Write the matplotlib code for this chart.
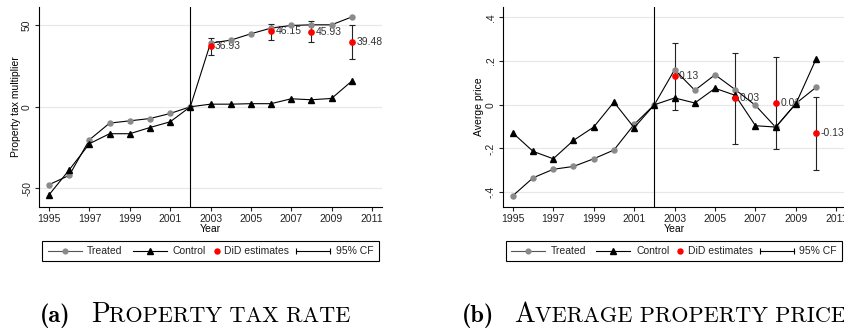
import matplotlib
matplotlib.use('Agg')
import matplotlib.pyplot as plt
from matplotlib.lines import Line2D
from matplotlib.offsetbox import AnchoredOffsetbox, DrawingArea, HPacker, TextArea

plt.rcParams['font.family'] = ['Liberation Sans', 'DejaVu Sans']

years = list(range(1995, 2011))
did_years = [2003, 2006, 2008, 2010]

# (a) property tax multiplier
tax_treated = [-47.7, -42.0, -20.2, -10.0, -8.6, -7.2, -4.1, 0.0,
               39.0, 40.8, 44.7, 48.2, 49.8, 50.2, 50.2, 55.0]
tax_control = [-53.9, -38.6, -22.6, -16.5, -16.5, -12.7, -9.2, 0.0,
               1.6, 1.6, 1.9, 1.9, 4.9, 4.3, 5.1, 15.7]
tax_did = [36.93, 46.15, 45.93, 39.48]
tax_did_labels = ['36.93', '46.15', '45.93', '39.48']
tax_lo = [31.6, 41.0, 39.4, 29.0]
tax_hi = [42.2, 51.0, 52.8, 50.0]
tax_yticks = [-50, 0, 50]
tax_yticklabels = ['-50', '0', '50']

# (b) average property price
price_treated = [-0.416, -0.334, -0.295, -0.282, -0.247, -0.207, -0.090, 0.0,
                 0.160, 0.066, 0.137, 0.069, -0.003, -0.103, 0.006, 0.080]
price_control = [-0.129, -0.213, -0.247, -0.163, -0.102, 0.012, -0.105, 0.0,
                 0.031, 0.008, 0.075, 0.043, -0.096, -0.102, 0.005, 0.210]
price_did = [0.13, 0.03, 0.008, -0.13]
price_did_labels = ['0.13', '0.03', '0.01', '-0.13']
price_lo = [-0.024, -0.181, -0.201, -0.300]
price_hi = [0.282, 0.238, 0.217, 0.037]
price_yticks = [-0.4, -0.2, 0, 0.2, 0.4]
price_yticklabels = ['-.4', '-.2', '0', '.2', '.4']

xticks = list(range(1995, 2012, 2))
legend_labels = ['Treated', 'Control', 'DiD estimates', '95% CF']

GRAY = '#8a8a8a'
W, H = 845, 330
FS = 7.5


def panel(ax, treated, control, did, did_labels, lo, hi, yticks, yticklabels, ylim, ylabel):
    ax.plot(years, treated, color='black', lw=0.8, marker='o', ms=3.6,
            mfc=GRAY, mec=GRAY, zorder=3)
    ax.plot(years, control, color='black', lw=0.8, marker='^', ms=4.4,
            mfc='black', mec='black', zorder=3)
    yerr = [[d - l for d, l in zip(did, lo)], [h - d for d, h in zip(did, hi)]]
    ax.errorbar(did_years, did, yerr=yerr, fmt='none', ecolor='#222222',
                elinewidth=0.8, capsize=2.5, capthick=0.8, zorder=2)
    ax.plot(did_years, did, ls='none', marker='o', ms=3.8, mfc='red', mec='red', zorder=4)
    for x, y, s in zip(did_years, did, did_labels):
        ax.annotate(s, (x, y), xytext=(3.2, 0), textcoords='offset points',
                    ha='left', va='center', fontsize=FS, color='#333333', zorder=1)
    ax.axvline(2002, color='black', lw=0.8, zorder=2)

    ax.set_xlim(1994.5, 2011.5)
    ax.set_ylim(*ylim)
    ax.set_xticks(xticks)
    ax.set_yticks(yticks)
    ax.set_yticklabels(yticklabels)
    for t in ax.get_yticklabels():
        t.set_rotation(90)
        t.set_va('center')
    ax.tick_params(labelsize=FS, length=3, width=0.8, pad=2, colors='#222222')
    ax.yaxis.grid(True, color='#e8e8e8', lw=0.9)
    ax.set_axisbelow(True)
    for s in ['top', 'right']:
        ax.spines[s].set_visible(False)
    for s in ['left', 'bottom']:
        ax.spines[s].set_linewidth(0.8)
    ax.set_xlabel('Year', fontsize=FS, labelpad=0.5)
    ax.set_ylabel(ylabel, fontsize=FS, labelpad=1)


def spacer(px):
    return DrawingArea(px * 0.72, 1)


def handle(kind):
    w = 6 if kind == 'dot' else 34
    da = DrawingArea(w * 0.72, 8 * 0.72)
    y = 4 * 0.72
    x1 = w * 0.72
    if kind == 'treated':
        da.add_artist(Line2D([0, x1], [y, y], color='#555555', lw=0.8))
        da.add_artist(Line2D([x1 / 2], [y], marker='o', ms=3.4, color=GRAY, ls='none'))
    elif kind == 'control':
        da.add_artist(Line2D([0, x1], [y, y], color='black', lw=0.8))
        da.add_artist(Line2D([x1 / 2], [y], marker='^', ms=4.0, color='black', ls='none'))
    elif kind == 'dot':
        da.add_artist(Line2D([x1 / 2], [y], marker='o', ms=3.6, color='red', ls='none'))
    else:
        da.add_artist(Line2D([0, x1], [y, y], color='black', lw=0.8))
        da.add_artist(Line2D([0, x1], [y, y], marker='|', ms=4, mew=0.8,
                             color='black', ls='none'))
    return da


def legend(fig, left_px, top_px):
    tp = dict(size=FS, color='#222222')
    kids = [handle('treated'), spacer(5.5), TextArea(legend_labels[0], textprops=tp), spacer(10),
            handle('control'), spacer(6), TextArea(legend_labels[1], textprops=tp), spacer(8),
            handle('dot'), spacer(4.5), TextArea(legend_labels[2], textprops=tp), spacer(7),
            handle('cf'), spacer(5.5), TextArea(legend_labels[3], textprops=tp)]
    box = HPacker(children=kids, sep=0, pad=0, align='center')
    ab = AnchoredOffsetbox(loc='upper left', child=box, pad=0.5, borderpad=0,
                           frameon=True, prop=dict(size=FS),
                           bbox_to_anchor=(left_px / W, 1 - top_px / H),
                           bbox_transform=fig.transFigure)
    ab.patch.set_boxstyle('square', pad=0)
    ab.patch.set_edgecolor('black')
    ab.patch.set_linewidth(0.8)
    fig.add_artist(ab)


def caption(fig, left_px, letter, first, rest):
    kids = [TextArea(letter, textprops=dict(family='cmb10', size=17.5)), spacer(20),
            TextArea(first, textprops=dict(family='cmr10', size=20)),
            TextArea(rest, textprops=dict(family='cmr10', size=16))]
    box = HPacker(children=kids, sep=0, pad=0, align='baseline')
    ab = AnchoredOffsetbox(loc='lower left', child=box, pad=0, borderpad=0, frameon=False,
                           bbox_to_anchor=(left_px / W, 2 / H),
                           bbox_transform=fig.transFigure)
    fig.add_artist(ab)


fig = plt.figure(figsize=(W / 100, H / 100), dpi=100)
bottom = (H - 206.7) / H
height = 200 / H
ax1 = fig.add_axes([39 / W, bottom, (382 - 39) / W, height])
ax2 = fig.add_axes([502.7 / W, bottom, (846.5 - 502.7) / W, height])

panel(ax1, tax_treated, tax_control, tax_did, tax_did_labels, tax_lo, tax_hi,
      tax_yticks, tax_yticklabels, (-61.2, 61.3), 'Property tax multiplier')
panel(ax2, price_treated, price_control, price_did, price_did_labels, price_lo, price_hi,
      price_yticks, price_yticklabels, (-0.466, 0.448), 'Averge price')

legend(fig, 42.3, 241)
legend(fig, 506, 241)
caption(fig, 40, '(a)', 'P', 'ROPERTY TAX RATE')
caption(fig, 461.7, '(b)', 'A', 'VERAGE PROPERTY PRICE')

fig.savefig('out.png', dpi=100)
